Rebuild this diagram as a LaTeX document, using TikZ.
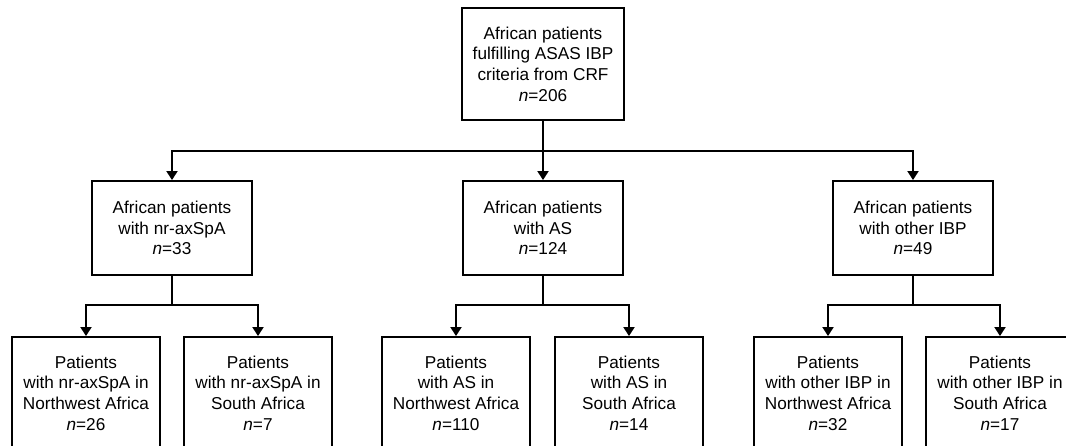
\documentclass[tikz,border=0pt]{standalone}
\usepackage{fontspec}
\setmainfont{Liberation Sans}
\usetikzlibrary{arrows.meta}
\begin{document}
\begin{tikzpicture}[x=1pt,y=1pt,
  box/.style={draw=black,line width=1.9pt,inner sep=0pt,align=center,
    font=\fontsize{17.2}{20.7}\selectfont},
  conn/.style={line width=1.9pt},
  arr/.style={conn,-{Triangle[width=11pt,length=9pt]}}]
\useasboundingbox (0,0) rectangle (1066,-446);
\clip (0,0) rectangle (1066,-446);
% top
\node[box,minimum width=162pt,minimum height=112pt] (top) at (543,-64)
  {African patients\\fulfilling ASAS IBP\\criteria from CRF\\\textit{n}=206};
% middle
\node[box,minimum width=160pt,minimum height=94pt] (m1) at (172,-228)
  {African patients\\with nr-axSpA\\\textit{n}=33};
\node[box,minimum width=160pt,minimum height=94pt] (m2) at (543,-228)
  {African patients\\with AS\\\textit{n}=124};
\node[box,minimum width=160pt,minimum height=94pt] (m3) at (913,-228)
  {African patients\\with other IBP\\\textit{n}=49};
% bottom
\node[box,minimum width=148pt,minimum height=112pt] (b1) at (86,-393)
  {Patients\\with nr-axSpA in\\Northwest Africa\\\textit{n}=26};
\node[box,minimum width=148pt,minimum height=112pt] (b2) at (258,-393)
  {Patients\\with nr-axSpA in\\South Africa\\\textit{n}=7};
\node[box,minimum width=148pt,minimum height=112pt] (b3) at (456,-393)
  {Patients\\with AS in\\Northwest Africa\\\textit{n}=110};
\node[box,minimum width=148pt,minimum height=112pt] (b4) at (629,-393)
  {Patients\\with AS in\\South Africa\\\textit{n}=14};
\node[box,minimum width=148pt,minimum height=112pt] (b5) at (828,-393)
  {Patients\\with other IBP in\\Northwest Africa\\\textit{n}=32};
\node[box,minimum width=148pt,minimum height=112pt] (b6) at (1000,-393)
  {Patients\\with other IBP in\\South Africa\\\textit{n}=17};
% junctions
\coordinate (j0) at (543,-151);
\coordinate (j1) at (172,-305);
\coordinate (j2) at (543,-305);
\coordinate (j3) at (913,-305);
% connectors
\draw[conn] (top.south) -- (j0);
\draw[arr] (j0) -| (m1.north);
\draw[arr] (j0) -- (m2.north);
\draw[arr] (j0) -| (m3.north);
\draw[conn] (m1.south) -- (j1);
\draw[arr] (j1) -| (b1.north);
\draw[arr] (j1) -| (b2.north);
\draw[conn] (m2.south) -- (j2);
\draw[arr] (j2) -| (b3.north);
\draw[arr] (j2) -| (b4.north);
\draw[conn] (m3.south) -- (j3);
\draw[arr] (j3) -| (b5.north);
\draw[arr] (j3) -| (b6.north);
\end{tikzpicture}
\end{document}
